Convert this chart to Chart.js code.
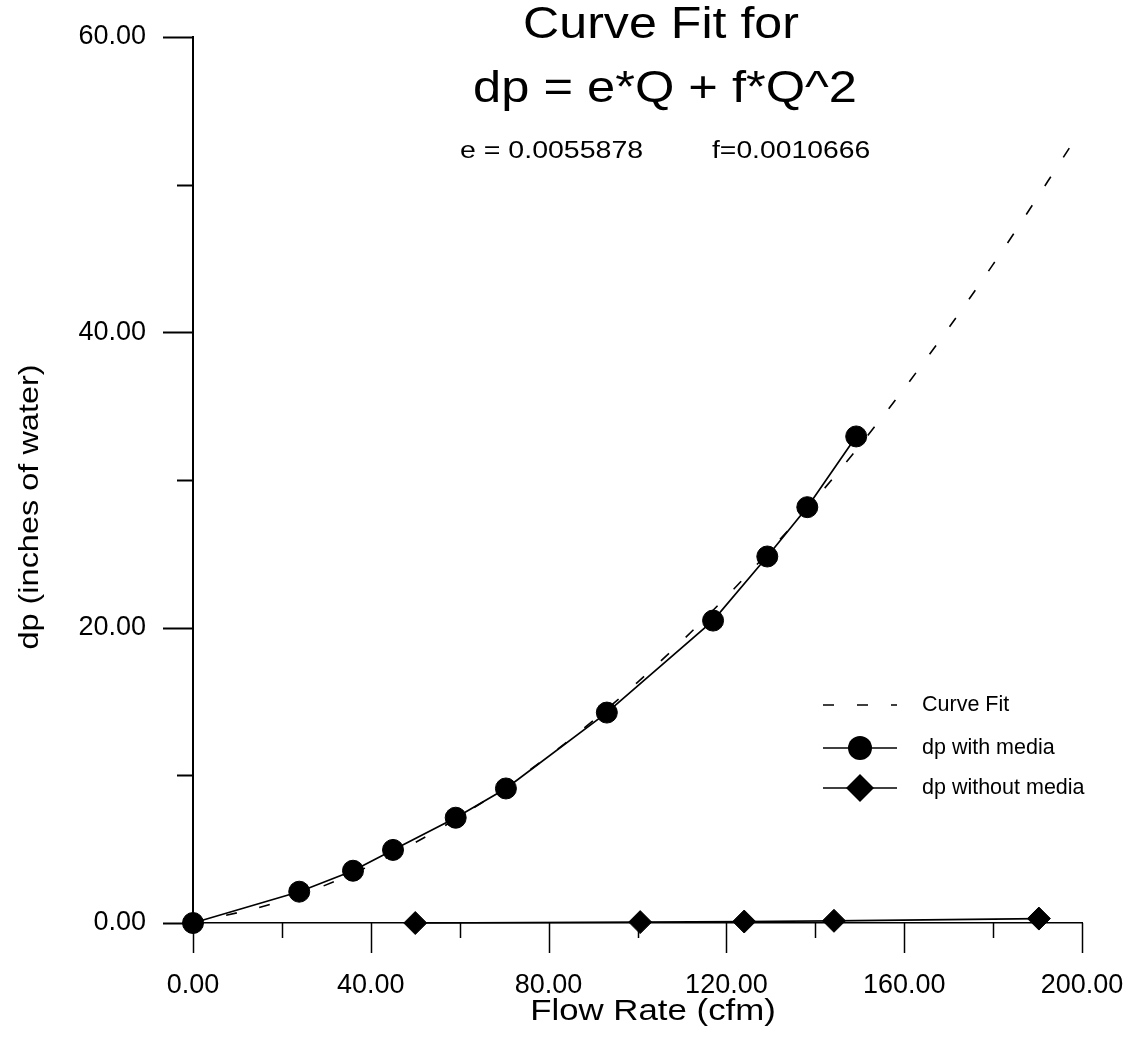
<!DOCTYPE html>
<html>
<head>
<meta charset="utf-8">
<title>Curve Fit for dp = e*Q + f*Q^2</title>
<script src="https://cdn.jsdelivr.net/npm/chart.js@4/dist/chart.umd.min.js"></script>
<style>
  html, body { margin: 0; padding: 0; background: #ffffff; }
  #wrap { width: 1137px; height: 1038px; }
</style>
</head>
<body>
<div id="wrap"><canvas id="chart" width="1137" height="1038"></canvas></div>
<script>
// Flow rate (cfm) and pressure drop (inches of water) measurements
const mediaFlow = [0, 23.9, 36.0, 45.0, 59.1, 70.4, 93.1, 117.0, 129.2, 138.2, 149.2];
const mediaDp   = [0, 2.12, 3.54, 4.95, 7.13, 9.11, 14.25, 20.48, 24.82, 28.16, 32.95];

const bareFlow = [50.0, 100.6, 124.0, 144.2, 190.3];
const bareDp   = [0.0, 0.06, 0.10, 0.15, 0.30];

// Fitted curve, sampled along the flow range
const fitFlow = [0, 20, 40, 60, 80, 100, 120, 140, 160, 180, 198.5];
const fitDp   = [0, 1.5, 3.9, 7.2, 11.3, 16.3, 22.1, 28.7, 36.2, 44.6, 53.1];

// Axis ticks and their labels ('' = unlabelled minor tick)
const xTickValues = [0, 20, 40, 60, 80, 100, 120, 140, 160, 180, 200];
const xTickLabels = ['0.00', '', '40.00', '', '80.00', '', '120.00', '', '160.00', '', '200.00'];
const yTickValues = [0, 10, 20, 30, 40, 50, 60];
const yTickLabels = ['0.00', '', '20.00', '', '40.00', '', '60.00'];

const seriesNames = ['Curve Fit', 'dp with media', 'dp without media'];
const titleLines = ['Curve Fit for', 'dp = e*Q + f*Q^2'];
const paramTexts = ['e = 0.0055878', 'f=0.0010666'];
const xAxisTitle = 'Flow Rate (cfm)';
const yAxisTitle = 'dp (inches of water)';

const pts = (xs, ys) => xs.map((x, i) => ({ x: x, y: ys[i] }));
const SANS = '"Liberation Sans", Arial, Helvetica, sans-serif';

// draw a string with a horizontal stretch factor
function stretchedText(ctx, str, x, y, px, align, sx) {
  ctx.save();
  ctx.font = px + 'px ' + SANS;
  ctx.fillStyle = '#000';
  ctx.textAlign = align;
  ctx.textBaseline = 'alphabetic';
  ctx.translate(x, y);
  ctx.scale(sx, 1);
  ctx.fillText(str, 0, 0);
  ctx.restore();
}

// keep the plot frame fixed: no extra room reserved for overhanging labels
function fixScale(scale, size) {
  if (scale.isHorizontal()) scale.height = size; else scale.width = size;
  scale.paddingTop = 0;
  scale.paddingBottom = 0;
  scale.paddingLeft = 0;
  scale.paddingRight = 0;
}

// outward tick marks of two lengths (major labelled, minor not)
const tickMarks = {
  id: 'tickMarks',
  beforeDatasetsDraw(chart) {
    const ctx = chart.ctx;
    const xs = chart.scales.x, ys = chart.scales.y;
    const area = chart.chartArea;
    ctx.save();
    ctx.strokeStyle = '#000';
    ys.ticks.forEach((t, i) => {
      const p = Math.round(ys.getPixelForValue(t.value)) + 0.5;
      const len = yTickLabels[i] ? 30 : 16;
      ctx.lineWidth = 2;
      ctx.beginPath();
      ctx.moveTo(area.left - len, p);
      ctx.lineTo(area.left, p);
      ctx.stroke();
    });
    xs.ticks.forEach((t, i) => {
      const p = Math.round(xs.getPixelForValue(t.value)) + 0.5;
      const len = xTickLabels[i] ? 30 : 15;
      ctx.lineWidth = 1.5;
      ctx.beginPath();
      ctx.moveTo(p, area.bottom);
      ctx.lineTo(p, area.bottom + len);
      ctx.stroke();
    });
    ctx.restore();
  }
};

// titles, coefficient line, axis titles and the in-plot key
const annotations = {
  id: 'annotations',
  afterDraw(chart) {
    const ctx = chart.ctx;
    stretchedText(ctx, titleLines[0], 661, 38, 44, 'center', 1.14);
    stretchedText(ctx, titleLines[1], 665, 102, 44, 'center', 1.15);
    stretchedText(ctx, paramTexts[0], 460, 158, 23, 'left', 1.24);
    stretchedText(ctx, paramTexts[1], 712, 158, 23, 'left', 1.23);

    stretchedText(ctx, xAxisTitle, 653, 1020, 29, 'center', 1.2);
    ctx.save();
    ctx.translate(38, 507);
    ctx.rotate(-Math.PI / 2);
    stretchedText(ctx, yAxisTitle, 0, 0, 28, 'center', 1.16);
    ctx.restore();

    // key
    const rows = [705, 748, 788];
    const x0 = 823, x1 = 897, xm = 860, xt = 922;
    chart.data.datasets.forEach((ds, i) => {
      const y = rows[i];
      ctx.save();
      ctx.strokeStyle = '#000';
      ctx.lineWidth = 1.6;
      ctx.setLineDash(ds.borderDash || []);
      ctx.beginPath();
      ctx.moveTo(x0, y);
      ctx.lineTo(x1, y);
      ctx.stroke();
      ctx.setLineDash([]);
      if (ds.pointRadius > 0) {
        ctx.fillStyle = '#000';
        ctx.beginPath();
        if (ds.pointStyle === 'circle') {
          ctx.arc(xm, y, 12, 0, Math.PI * 2);
        } else {
          ctx.moveTo(xm - 14, y);
          ctx.lineTo(xm, y - 14);
          ctx.lineTo(xm + 14, y);
          ctx.lineTo(xm, y + 14);
          ctx.closePath();
        }
        ctx.fill();
      }
      ctx.font = '21.5px ' + SANS;
      ctx.fillStyle = '#000';
      ctx.textAlign = 'left';
      ctx.textBaseline = 'middle';
      ctx.fillText(ds.label, xt, y);
      ctx.restore();
    });
  }
};

new Chart(document.getElementById('chart'), {
  type: 'line',
  data: {
    datasets: [
      {
        label: seriesNames[0],
        data: pts(fitFlow, fitDp),
        borderColor: '#000',
        borderWidth: 1.6,
        borderDash: [11, 23],
        pointRadius: 0,
        cubicInterpolationMode: 'monotone',
        fill: false,
        clip: false
      },
      {
        label: seriesNames[1],
        data: pts(mediaFlow, mediaDp),
        borderColor: '#000',
        borderWidth: 1.7,
        backgroundColor: '#000',
        pointStyle: 'circle',
        pointRadius: 10.5,
        pointBorderWidth: 1,
        pointBackgroundColor: '#000',
        pointBorderColor: '#000',
        tension: 0,
        fill: false,
        clip: false
      },
      {
        label: seriesNames[2],
        data: pts(bareFlow, bareDp),
        borderColor: '#000',
        borderWidth: 1.7,
        backgroundColor: '#000',
        pointStyle: 'rectRot',
        pointRadius: 11.5,
        pointBorderWidth: 1,
        pointBackgroundColor: '#000',
        pointBorderColor: '#000',
        tension: 0,
        fill: false,
        clip: false
      }
    ]
  },
  options: {
    responsive: false,
    animation: false,
    devicePixelRatio: 1,
    layout: { padding: { top: 37, right: 55, left: 0, bottom: 0 } },
    plugins: {
      legend: { display: false },
      tooltip: { enabled: false },
      title: { display: false }
    },
    scales: {
      x: {
        type: 'linear',
        min: 0,
        max: 200,
        afterBuildTicks: (scale) => { scale.ticks = xTickValues.map(v => ({ value: v })); },
        afterFit: (scale) => fixScale(scale, 115),
        ticks: {
          autoSkip: false,
          maxRotation: 0,
          padding: 46,
          color: '#000',
          font: { family: SANS, size: 27 },
          callback: (v, i) => xTickLabels[i]
        },
        grid: { display: false, drawTicks: false },
        border: { display: true, color: '#000', width: 1.5 }
      },
      y: {
        type: 'linear',
        min: 0,
        max: 60,
        afterBuildTicks: (scale) => { scale.ticks = yTickValues.map(v => ({ value: v })); },
        afterFit: (scale) => fixScale(scale, 193),
        ticks: {
          autoSkip: false,
          padding: 47,
          color: '#000',
          font: { family: SANS, size: 27 },
          callback: (v, i) => yTickLabels[i]
        },
        grid: { display: false, drawTicks: false },
        border: { display: true, color: '#000', width: 2 }
      }
    }
  },
  plugins: [tickMarks, annotations]
});
</script>
</body>
</html>
